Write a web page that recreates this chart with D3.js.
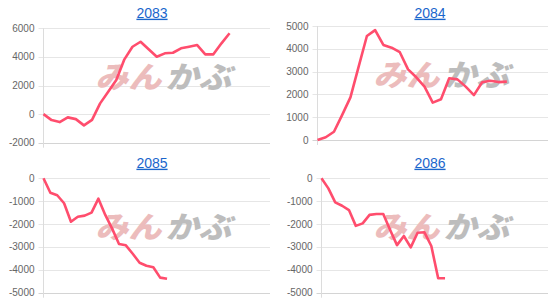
<!DOCTYPE html>
<html>
<head>
  <meta charset="UTF-8" />
  <title>2083-2086</title>
  <style>
    body {
      padding: 0;
      margin: 0;
      background: #fff;
    }
  </style>
</head>
<body>

<svg width="555" height="300" xmlns="http://www.w3.org/2000/svg"></svg>

<script src="https://d3js.org/d3.v7.min.js"></script>
<script>

// panel titles
var titles = ["2083", "2084", "2085", "2086"]

// series values, one per panel
var values2083 = [0, -420, -560, -230, -350, -790, -400, 750, 1560, 2380, 3830, 4710,
                  5060, 4530, 4010, 4250, 4290, 4600, 4710, 4830, 4180, 4180, 4950, 5650]
var values2084 = [0, 120, 360, 1100, 1870, 3220, 4560, 4820, 4170, 4050, 3850, 3100,
                  2750, 2340, 1640, 1790, 2710, 2660, 2340, 1970, 2530, 2600, 2540, 2560]
var values2085 = [0, -630, -740, -1090, -1900, -1680, -1630, -1500, -890, -1600,
                  -2200, -2870, -2930, -3300, -3690, -3820, -3890, -4340, -4390]
var values2086 = [0, -440, -1050, -1200, -1390, -2080, -1970, -1600, -1560, -1560,
                  -2260, -2920, -2520, -3020, -2380, -2360, -2960, -4370, -4370]

// y tick labels
var ticks2083 = [-2000, 0, 2000, 4000, 6000]
var ticks2084 = [0, 1000, 2000, 3000, 4000, 5000]
var ticks2085 = [-5000, -4000, -3000, -2000, -1000, 0]
var ticks2086 = [-5000, -4000, -3000, -2000, -1000, 0]

// number of x slots on each axis (the series do not fill the whole axis)
var slots = [29, 29, 34, 34]

var series = [values2083, values2084, values2085, values2086]
var ticks = [ticks2083, ticks2084, ticks2085, ticks2086]

// plot boxes
var boxes = [
  {cx: 0,   left: 43.5,  right: 270, top: 28.3, bottom: 142.7, titleY: 17.7, titleX: 152, wmY: 77.5},
  {cx: 278, left: 317.5, right: 548, top: 26,   bottom: 140,   titleY: 17.7, titleX: 430, wmY: 76},
  {cx: 0,   left: 43.5,  right: 270, top: 178.3, bottom: 292.7, titleY: 167.7, titleX: 152, wmY: 227.5},
  {cx: 278, left: 321.5, right: 548, top: 178.3, bottom: 292.7, titleY: 167.7, titleX: 430, wmY: 227.5}
]

var svg = d3.select("svg")

titles.forEach(function(title, i) {
  var b = boxes[i]
  var data = series[i]
  var tk = ticks[i]

  var x = d3.scalePoint().domain(d3.range(slots[i])).range([b.left, b.right])
  var y = d3.scaleLinear().domain(d3.extent(tk)).range([b.bottom, b.top])

  var g = svg.append("g").attr("class", "panel")

  // grid
  g.selectAll("line.grid")
    .data(tk)
    .enter()
    .append("line")
    .attr("class", "grid")
    .attr("x1", b.left - 5)
    .attr("x2", b.right)
    .attr("y1", d => Math.round(y(d)) + 0.5)
    .attr("y2", d => Math.round(y(d)) + 0.5)
    .style("stroke", (d, j) => j === 0 ? "#d4d4d4" : "#e6e6e6")
    .style("stroke-width", 1)

  g.append("line")
    .attr("x1", b.left)
    .attr("x2", b.left)
    .attr("y1", b.top)
    .attr("y2", b.bottom + 5)
    .style("stroke", "#dcdcdc")

  // tick labels
  g.selectAll("text.tick")
    .data(tk)
    .enter()
    .append("text")
    .attr("class", "tick")
    .attr("x", b.left - 9)
    .attr("y", d => y(d))
    .attr("dy", "0.35em")
    .style("text-anchor", "end")
    .style("font-family", "'Liberation Sans', Arial, sans-serif")
    .style("font-size", "10px")
    .style("fill", "#666")
    .text(d => d)

  // title
  g.append("text")
    .attr("x", b.titleX)
    .attr("y", b.titleY)
    .style("text-anchor", "middle")
    .style("font-family", "'Liberation Sans', Arial, sans-serif")
    .style("font-size", "14px")
    .style("fill", "#1a66cc")
    .style("text-decoration", "underline")
    .text(title)

  // watermark
  var wm = g.append("g")
    .attr("transform", "translate(" + (b.cx + 166) + "," + b.wmY + ") skewX(-14)")
  wm.append("text")
    .attr("x", -68)
    .attr("y", 10)
    .attr("textLength", 66)
    .attr("lengthAdjust", "spacingAndGlyphs")
    .style("font-family", "'Noto Sans CJK JP', sans-serif")
    .style("font-weight", 900)
    .style("font-size", "30px")
    .style("fill", "#ecbcbc")
    .text("みん")
  wm.append("text")
    .attr("x", 2)
    .attr("y", 10)
    .attr("textLength", 66)
    .attr("lengthAdjust", "spacingAndGlyphs")
    .style("font-family", "'Noto Sans CJK JP', sans-serif")
    .style("font-weight", 900)
    .style("font-size", "30px")
    .style("fill", "#bdbdbd")
    .text("かぶ")

  // line
  var line = d3.line()
    .x((d, j) => x(j))
    .y(d => y(d))

  g.append("path")
    .datum(data)
    .attr("d", line)
    .style("fill", "none")
    .style("stroke", "#ff4d6d")
    .style("stroke-width", 2.6)
    .style("stroke-linejoin", "round")
})

</script>
</body>
</html>
